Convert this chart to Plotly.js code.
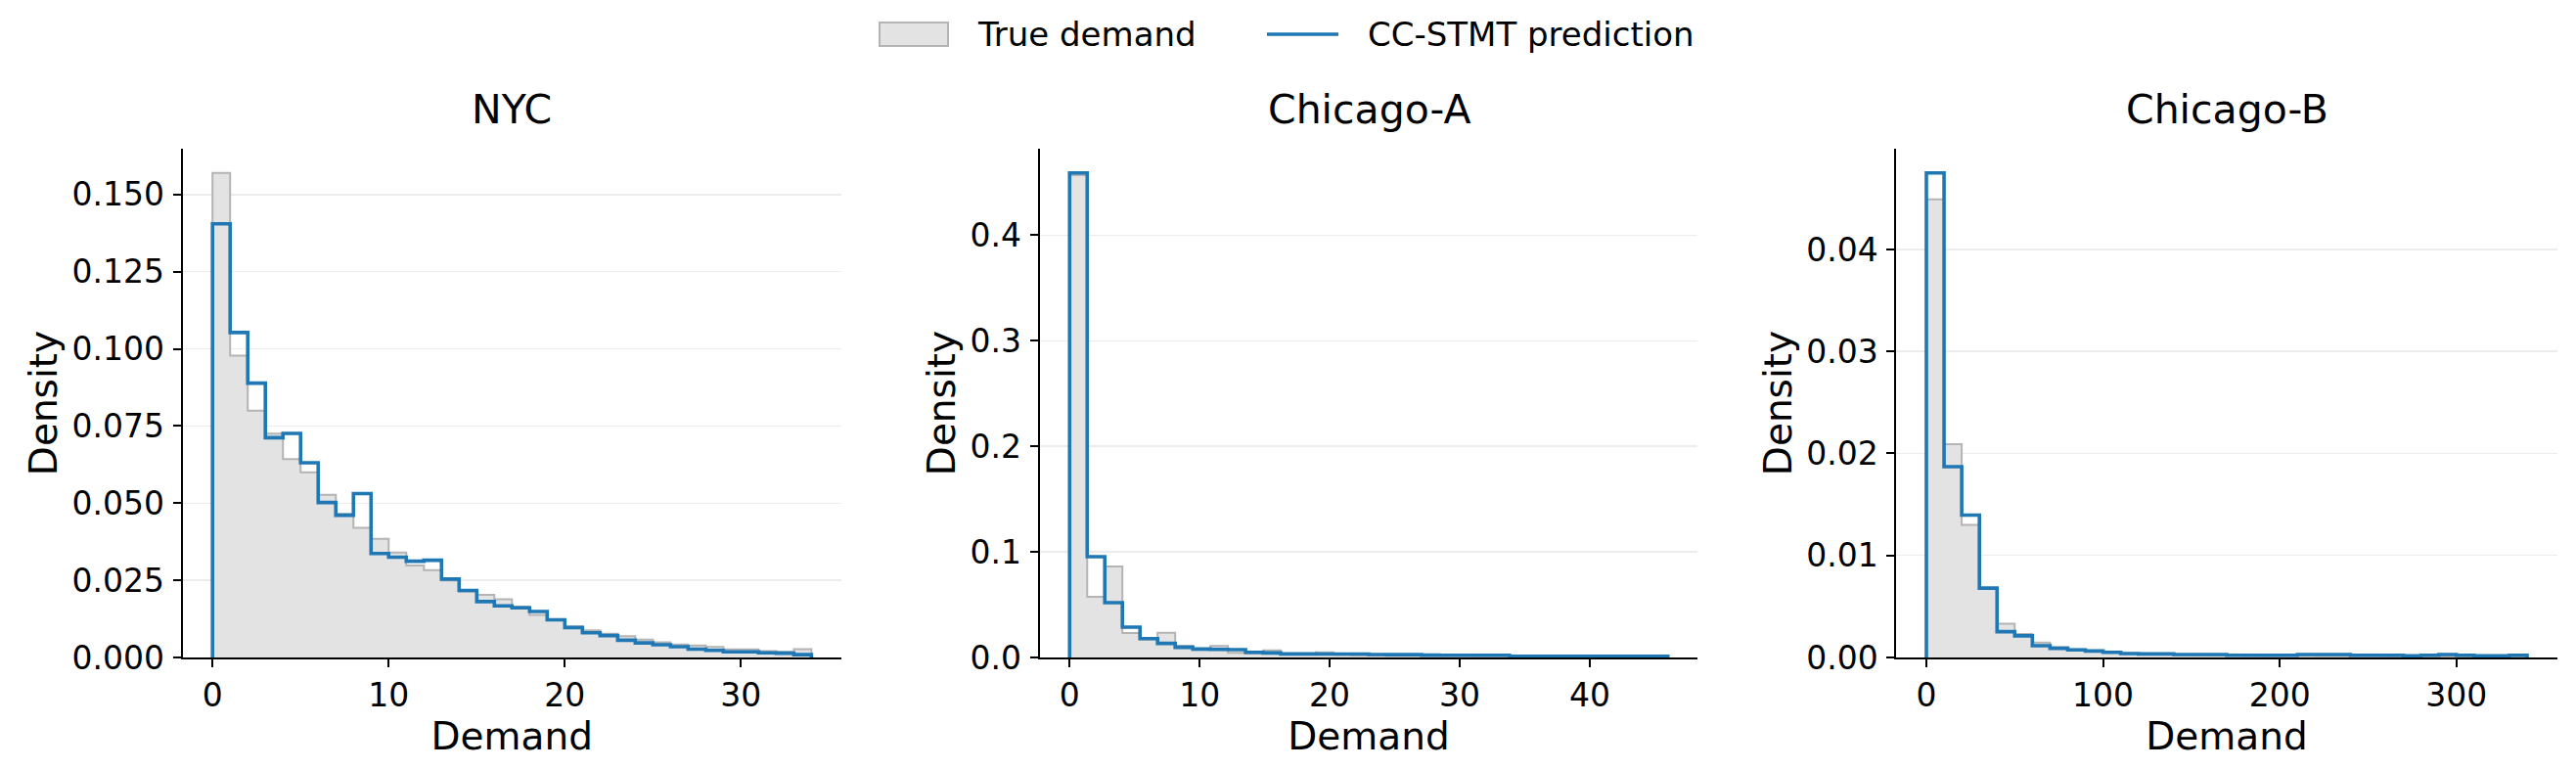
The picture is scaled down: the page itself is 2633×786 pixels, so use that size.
<!DOCTYPE html>
<html>
<head>
<meta charset="utf-8">
<script src="https://cdn.plot.ly/plotly-3.0.1.min.js"></script>
<style>
  html, body { margin: 0; padding: 0; background: #fff; }
  #graph { width: 2633px; height: 786px; }
</style>
</head>
<body>
<div id="graph"></div>
<script>
const W = 2633;
const H = 786;

// histogram densities, 34 equal bins from 0 to maxDemand
const cities = ["NYC", "Chicago-A", "Chicago-B"];
const maxDemand = [34, 46, 340];

const nycTrue = [0.157, 0.0978, 0.0800, 0.0725, 0.0643, 0.0600, 0.0527, 0.0465, 0.0420, 0.0384,
  0.0340, 0.0298, 0.0283, 0.0250, 0.0213, 0.0203, 0.0189, 0.0165, 0.0138, 0.0121,
  0.0100, 0.0088, 0.0077, 0.0069, 0.0058, 0.0049, 0.0042, 0.0039, 0.0034, 0.0026,
  0.0026, 0.0021, 0.0018, 0.0027];
const nycPred = [0.1405, 0.1053, 0.0889, 0.0712, 0.0726, 0.0631, 0.0502, 0.0461, 0.0531, 0.0337,
  0.0325, 0.0312, 0.0315, 0.0254, 0.0217, 0.0181, 0.0167, 0.0161, 0.0149, 0.0122,
  0.0097, 0.0080, 0.0071, 0.0056, 0.0047, 0.0041, 0.0035, 0.0027, 0.0023, 0.0018,
  0.0018, 0.0015, 0.0014, 0.0009];

const chiATrue = [0.457, 0.0574, 0.0861, 0.0231, 0.0172, 0.0235, 0.0111, 0.0072, 0.0108, 0.0045,
  0.0036, 0.0068, 0.0030, 0.0028, 0.0049, 0.0026, 0.0020, 0.0019, 0.0017, 0.0017,
  0.0016, 0.0014, 0.0013, 0.0012, 0.0011, 0.0010, 0.0009, 0.0009, 0.0008, 0.0008,
  0.0007, 0.0007, 0.0006, 0.0006];
const chiAPred = [0.459, 0.0954, 0.0519, 0.0287, 0.0179, 0.0133, 0.0096, 0.0080, 0.0077, 0.0074,
  0.0049, 0.0043, 0.0034, 0.0034, 0.0033, 0.0033, 0.0032, 0.0028, 0.0027, 0.0027,
  0.0022, 0.0021, 0.0021, 0.0021, 0.0021, 0.0012, 0.0012, 0.0012, 0.0012, 0.0012,
  0.0012, 0.0012, 0.0012, 0.0012];

const chiBTrue = [0.0449, 0.0209, 0.0130, 0.0068, 0.0033, 0.0023, 0.00147, 0.0010, 0.00078, 0.00062,
  0.00048, 0.00036, 0.00030, 0.00028, 0.00024, 0.00022, 0.00020, 0.00018, 0.00016, 0.00015,
  0.00014, 0.00016, 0.00015, 0.00014, 0.00012, 0.00011, 0.00010, 0.00010, 0.00009, 0.00010,
  0.00009, 0.00008, 0.00008, 0.00008];
const chiBPred = [0.0475, 0.0187, 0.01396, 0.0068, 0.00253, 0.00212, 0.00115, 0.0009, 0.00074, 0.00064,
  0.00051, 0.00038, 0.00035, 0.00035, 0.00029, 0.00029, 0.00029, 0.00022, 0.00022, 0.00022,
  0.00022, 0.00029, 0.00029, 0.00029, 0.00022, 0.00022, 0.00022, 0.00016, 0.00022, 0.00029,
  0.00022, 0.00016, 0.00016, 0.00022];

const trueSeries = [nycTrue, chiATrue, chiBTrue];
const predSeries = [nycPred, chiAPred, chiBPred];
const yDtick = [0.025, 0.1, 0.01];
const yFormat = [".3f", ".1f", ".2f"];
const xDtick = [10, 10, 100];

const seriesNames = ["True demand", "CC-STMT prediction"];
const blue = "#1f77b4";
const grayFill = "#e3e3e3";
const grayEdge = "#b4b4b4";
const font = "DejaVu Sans";

// pixel boxes of the three axes (left, right), shared top/bottom
const axLeft = [186.6, 1062.7, 1938.3];
const axRight = [860.0, 1735.3, 2613.7];
const axTop = 152;
const axBottom = 672;

// step outline of a histogram: up at first edge, down at last edge
function stepXY(values, maxV) {
  const w = maxV / values.length;
  const xs = [0, 0];
  const ys = [0, values[0]];
  for (let i = 1; i < values.length; i++) {
    xs.push(i * w);
    ys.push(values[i]);
  }
  xs.push(maxV);
  ys.push(0);
  return { x: xs, y: ys };
}

const traces = [];
const layout = {
  width: W,
  height: H,
  margin: { l: 0, r: 0, t: 0, b: 0 },
  paper_bgcolor: "#fff",
  plot_bgcolor: "#fff",
  showlegend: false,
  font: { family: font, color: "#000", size: 33 },
  annotations: [],
  shapes: [],
};

cities.forEach((city, i) => {
  const n = i === 0 ? "" : String(i + 1);
  const xa = "x" + n;
  const ya = "y" + n;
  const t = stepXY(trueSeries[i], maxDemand[i]);
  const p = stepXY(predSeries[i], maxDemand[i]);

  traces.push({
    x: t.x, y: t.y, xaxis: xa, yaxis: ya,
    type: "scatter", mode: "lines",
    line: { shape: "hv", color: grayEdge, width: 2 },
    fill: "tozeroy", fillcolor: grayFill,
    name: seriesNames[0], hoverinfo: "skip",
  });
  traces.push({
    x: p.x, y: p.y, xaxis: xa, yaxis: ya,
    type: "scatter", mode: "lines",
    line: { shape: "hv", color: blue, width: 3.6 },
    name: seriesNames[1], hoverinfo: "skip",
  });

  const yMax = Math.max(...trueSeries[i], ...predSeries[i]) * 1.05;
  const common = {
    showline: true, linecolor: "#000", linewidth: 2,
    ticks: "outside", ticklen: 8, tickwidth: 2, tickcolor: "#000",
    zeroline: false, automargin: false,
    tickfont: { family: font, size: 33, color: "#000" },
  };

  layout["xaxis" + n] = Object.assign({}, common, {
    domain: [axLeft[i] / W, axRight[i] / W],
    anchor: ya,
    range: [-0.05 * maxDemand[i], 1.05 * maxDemand[i]],
    dtick: xDtick[i], tick0: 0,
    showgrid: false,
    title: { text: "Demand", font: { family: font, size: 39 }, standoff: 8 },
  });
  layout["yaxis" + n] = Object.assign({}, common, {
    domain: [1 - axBottom / H, 1 - axTop / H],
    anchor: xa,
    range: [0, yMax],
    dtick: yDtick[i], tick0: 0,
    tickformat: yFormat[i],
    showgrid: true, gridcolor: "#ececec", gridwidth: 1.5,
    ticklabelstandoff: 2,
    title: { text: "Density", font: { family: font, size: 39 }, standoff: 3 },
  });

  layout.annotations.push({
    text: city, xref: "paper", yref: "paper",
    x: (axLeft[i] + axRight[i]) / 2 / W, y: 1 - 112 / H,
    xanchor: "center", yanchor: "middle", showarrow: false,
    font: { family: font, size: 41 },
  });
});

// legend drawn at the top centre
const legY = 1 - 35 / H;
layout.shapes.push({
  type: "rect", xref: "paper", yref: "paper",
  x0: 899 / W, x1: 969 / W, y0: 1 - 47 / H, y1: 1 - 23 / H,
  fillcolor: grayFill, line: { color: grayEdge, width: 2 },
});
layout.shapes.push({
  type: "line", xref: "paper", yref: "paper",
  x0: 1295 / W, x1: 1368 / W, y0: legY, y1: legY,
  line: { color: blue, width: 3.6 },
});
layout.annotations.push({
  text: seriesNames[0], xref: "paper", yref: "paper",
  x: 997 / W, y: legY, xanchor: "left", yanchor: "middle",
  showarrow: false, font: { family: font, size: 34 },
});
layout.annotations.push({
  text: seriesNames[1], xref: "paper", yref: "paper",
  x: 1396 / W, y: legY, xanchor: "left", yanchor: "middle",
  showarrow: false, font: { family: font, size: 34 },
});

Plotly.newPlot("graph", traces, layout, { displayModeBar: false, staticPlot: true });
</script>
</body>
</html>
